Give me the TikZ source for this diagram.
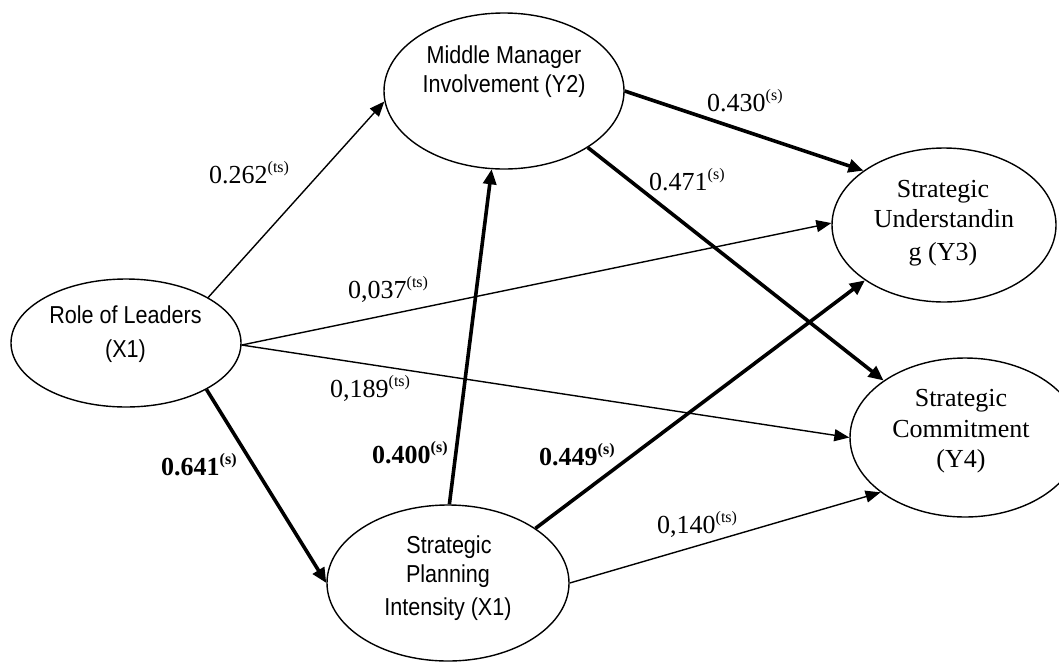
\documentclass[tikz,border=0pt]{standalone}
\usepackage{fontspec}
\setmainfont{Liberation Serif}
\newfontfamily\arialx[FakeStretch=0.88]{Liberation Sans}
\usetikzlibrary{arrows.meta,shapes.geometric}
\newcommand\supx[1]{\raisebox{11pt}{\fontsize{16pt}{16pt}\selectfont #1}}
\begin{document}
\begin{tikzpicture}[x=1pt,y=-1pt,
  ell/.style={draw, ellipse, line width=1.4pt, inner sep=0pt},
  sanst/.style={font=\arialx\fontsize{24.5pt}{24.5pt}\selectfont, inner sep=0pt, anchor=base},
  sert/.style={font=\fontsize{26pt}{26pt}\selectfont, inner sep=0pt, anchor=base},
  lab/.style={font=\fontsize{26pt}{26pt}\selectfont, inner sep=0pt, anchor=base west},
  thinarr/.style={line width=1.4pt, -{Triangle[length=15pt,width=12pt]}},
  thickarr/.style={line width=3.6pt, -{Triangle[length=15pt,width=13pt]}}
]
\useasboundingbox (0,0) rectangle (1059,662);
\clip (0,0) rectangle (1059,662);

% ellipses
\node[ell, minimum width=230pt, minimum height=128pt] (rl) at (126,343) {};
\node[ell, minimum width=240pt, minimum height=156pt] (mm) at (504,91) {};
\node[ell, minimum width=224pt, minimum height=154pt] (su) at (944,225) {};
\node[ell, minimum width=230pt, minimum height=159pt] (sc) at (965,437.5) {};
\node[ell, minimum width=242pt, minimum height=156pt] (sp) at (448,583) {};

% ellipse texts
\node[sanst] (rl1) at (125.5,323.3) {Role of Leaders};
\node[sanst] (rl2) at (125.5,357) {(X1)};
\node[sanst] (mm1) at (504,63) {Middle Manager};
\node[sanst] (mm2) at (504,92) {Involvement (Y2)};
\node[sert] (su1) at (943,197) {Strategic};
\node[sert] (su2) at (944,227) {Understandin};
\node[sert] (su3) at (943,260) {g (Y3)};
\node[sert] (sc1) at (961,406) {Strategic};
\node[sert] (sc2) at (961,437) {Commitment};
\node[sert] (sc3) at (961,467) {(Y4)};
\node[sanst] (sp1) at (449,553) {Strategic};
\node[sanst] (sp2) at (448,582) {Planning};
\node[sanst] (sp3) at (448,615) {Intensity (X1)};

% connectors
\draw[thinarr] (rl.29) -- (mm.185);
\draw[thinarr] (rl.-1) -- (su.179);
\draw[thinarr] (rl.-1) -- (sc.180);
\draw[thickarr] (rl.-30) -- (sp.180);
\draw[thickarr] (sp.89) -- (mm.-99);
\draw[thickarr] (sp.32) -- (su.215);
\draw[thinarr] (sp.0) -- (sc.213.6);
\draw[thickarr] (mm.0) -- (su.146);
\draw[thickarr] (mm.-34) -- (sc.145.9);

% labels
\node[lab] (l1) at (209,183) {0.262\supx{(ts)}};
\node[lab] (l2) at (348,298) {0,037\supx{(ts)}};
\node[lab] (l3) at (330,397) {0,189\supx{(ts)}};
\node[lab] (l4) at (161,475) {\bfseries 0.641\supx{(s)}};
\node[lab] (l5) at (372,463) {\bfseries 0.400\supx{(s)}};
\node[lab] (l6) at (539,465) {\bfseries 0.449\supx{(s)}};
\node[lab] (l7) at (657,533) {0,140\supx{(ts)}};
\node[lab] (l8) at (707,111) {0.430\supx{(s)}};
\node[lab] (l9) at (649,190) {0.471\supx{(s)}};
\end{tikzpicture}
\end{document}
